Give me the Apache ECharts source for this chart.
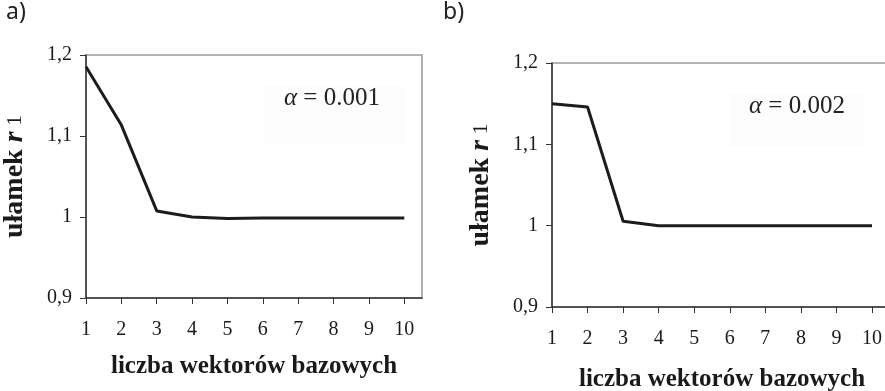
<!DOCTYPE html>
<html>
<head>
<meta charset="utf-8">
<script src="https://cdn.jsdelivr.net/npm/echarts@6/dist/echarts.min.js"></script>
<style>
html,body{margin:0;padding:0;background:#fff;}
#c{width:885px;height:391px;}
</style>
</head>
<body>
<div id="c"></div>
<script>
// ---- data ----
const xValues = [1, 2, 3, 4, 5, 6, 7, 8, 9, 10];
const seriesA = [1.1855, 1.1135, 1.0075, 1.0000, 0.9982, 0.9988, 0.9988, 0.9988, 0.9988, 0.9988];
const seriesB = [1.1500, 1.1459, 1.0054, 1.0000, 1.0000, 1.0000, 1.0000, 1.0000, 1.0000, 1.0000];
const xTickLabels = [1, 2, 3, 4, 5, 6, 7, 8, 9, 10];
const yTickLabels = [0.9, 1.0, 1.1, 1.2];
const panelLabels = ['a)', 'b)'];
const alphaLabels = ['0.001', '0.002'];
const xTitle = 'liczba wektorów bazowych';
const yTitleMain = 'ułamek ';
const yTitleVar = 'r';
const yTitleSub = ' 1';

const serif = '"Liberation Serif", "DejaVu Serif", serif';
const fmtY = v => String(+(+v).toFixed(1)).replace('.', ',');

function pairs(ys) { return xValues.map((x, i) => [x, ys[i]]); }

function xAxis(gi, max, gap) {
  return {
    type: 'value', gridIndex: gi, min: 1, max: max, interval: 1,
    name: xTitle, nameLocation: 'middle', nameGap: gap,
    nameTextStyle: { fontFamily: serif, fontWeight: 'bold', fontSize: 25, color: '#1a1a1a' },
    axisLine: { show: true, lineStyle: { color: '#333', width: 1.5 } },
    axisTick: { show: true, length: 6, lineStyle: { color: '#333' }, customValues: xTickLabels },
    axisLabel: { customValues: xTickLabels, margin: 22, fontFamily: serif, fontSize: 20, color: '#1a1a1a' },
    splitLine: { show: false }
  };
}
function yAxis(gi, gap) {
  return {
    type: 'value', gridIndex: gi, min: 0.9, max: 1.2, interval: 0.1,
    name: '{m|' + yTitleMain + '}{v|' + yTitleVar + '}{s|' + yTitleSub + '}',
    nameLocation: 'middle', nameGap: gap, nameRotate: 90,
    nameTextStyle: {
      fontFamily: serif, color: '#1a1a1a',
      rich: {
        m: { fontFamily: serif, fontWeight: 'bold', fontSize: 28, color: '#1a1a1a' },
        v: { fontFamily: serif, fontWeight: 'bold', fontStyle: 'italic', fontSize: 28, color: '#1a1a1a' },
        s: { fontFamily: serif, fontSize: 22, color: '#1a1a1a' }
      }
    },
    axisLine: { show: true, lineStyle: { color: '#333', width: 1.5 } },
    axisTick: { show: true, length: 6, lineStyle: { color: '#333' }, customValues: yTickLabels },
    axisLabel: { customValues: yTickLabels, margin: 14, fontFamily: serif, fontSize: 20, color: '#1a1a1a', formatter: fmtY },
    splitLine: { show: false }
  };
}
function alphaText(x, y, val) {
  return {
    type: 'text', left: x, top: y,
    style: {
      text: '{a|α}{t| = ' + val + '}',
      rich: {
        a: { fontFamily: serif, fontStyle: 'italic', fontSize: 25, fill: '#222' },
        t: { fontFamily: serif, fontSize: 25, fill: '#222' }
      }
    }
  };
}

const chart = echarts.init(document.getElementById('c'), null, { renderer: 'canvas' });
chart.setOption({
  animation: false,
  backgroundColor: '#fff',
  grid: [
    { left: 86, top: 55, width: 336, height: 243, outerBoundsMode: 'none', containLabel: false, show: true, borderColor: '#9a9a9a', borderWidth: 1.5, backgroundColor: 'transparent' },
    { left: 552, top: 63, width: 340, height: 244, outerBoundsMode: 'none', containLabel: false, show: true, borderColor: '#9a9a9a', borderWidth: 1.5, backgroundColor: 'transparent' }
  ],
  xAxis: [xAxis(0, 1 + 336 / 35.37, 56), xAxis(1, 1 + 340 / 35.56, 60)],
  yAxis: [yAxis(0, 57), yAxis(1, 57)],
  graphic: [
    { type: 'rect', shape: { x: 265, y: 85, width: 140, height: 58 }, style: { fill: '#fdfdfd' }, z: -1 },
    { type: 'rect', shape: { x: 730, y: 92, width: 135, height: 55 }, style: { fill: '#fdfdfd' }, z: -1 },
    { type: 'text', left: 6, top: 1, style: { text: panelLabels[0], fontFamily: '"Noto Sans", sans-serif', fontSize: 23, fill: '#222' } },
    { type: 'text', left: 443, top: 1, style: { text: panelLabels[1], fontFamily: '"Noto Sans", sans-serif', fontSize: 23, fill: '#222' } },
    alphaText(284, 86, alphaLabels[0]),
    alphaText(749, 94, alphaLabels[1])
  ],
  series: [
    { type: 'line', xAxisIndex: 0, yAxisIndex: 0, data: pairs(seriesA), symbol: 'none', lineStyle: { color: '#1c1c1c', width: 3 } },
    { type: 'line', xAxisIndex: 1, yAxisIndex: 1, data: pairs(seriesB), symbol: 'none', lineStyle: { color: '#1c1c1c', width: 3 } }
  ]
});
</script>
</body>
</html>
